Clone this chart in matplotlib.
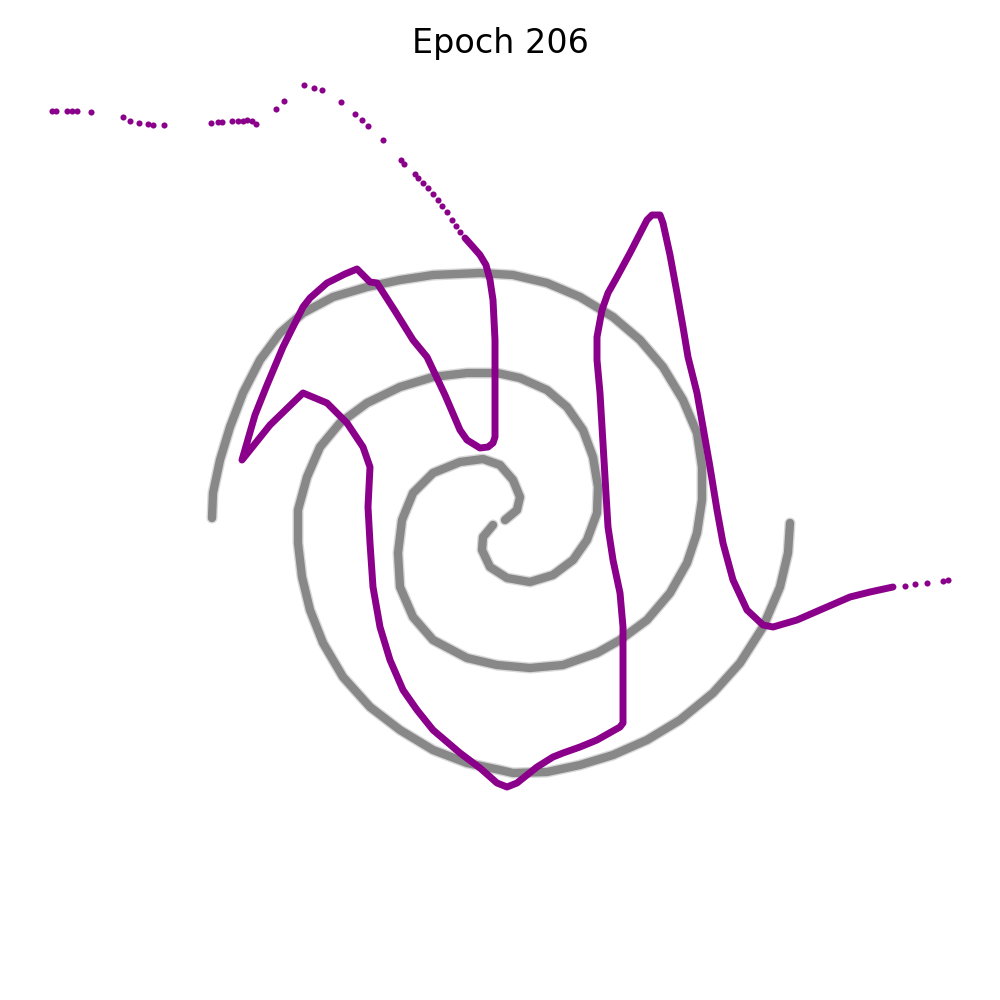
import matplotlib.pyplot as plt

# lengan spiral (abu-abu)
arm_a_x = [0.05, 0.17, 0.20, 0.13, 0.00, -0.17, -0.40, -0.67, -0.87, -0.98, -1.02, -1.00, -0.87, -0.67,
           -0.33, -0.03, 0.30, 0.63, 0.97, 1.20, 1.47, 1.70, 1.87, 1.97, 2.02, 2.02, 1.97, 1.83, 1.63,
           1.40, 1.13, 0.80, 0.47, 0.13, -0.20, -0.67, -1.00, -1.33, -1.67, -1.97, -2.20, -2.40, -2.57,
           -2.70, -2.80, -2.87, -2.88]
arm_a_y = [-0.20, -0.10, 0.03, 0.20, 0.35, 0.41, 0.38, 0.27, 0.07, -0.20, -0.53, -0.87, -1.17, -1.40,
           -1.58, -1.65, -1.68, -1.65, -1.53, -1.40, -1.20, -0.93, -0.63, -0.33, 0.00, 0.33, 0.67, 1.00,
           1.33, 1.60, 1.83, 2.03, 2.17, 2.25, 2.27, 2.25, 2.20, 2.13, 2.03, 1.87, 1.67, 1.40, 1.07, 0.73,
           0.40, 0.07, -0.18]

arm_b_x = [-0.07, -0.17, -0.18, -0.10, 0.07, 0.30, 0.53, 0.73, 0.87, 0.97, 0.98, 0.93, 0.83, 0.67, 0.47,
           0.20, -0.03, -0.33, -0.67, -1.00, -1.33, -1.60, -1.80, -1.93, -2.02, -2.02, -1.98, -1.90, -1.77,
           -1.57, -1.30, -1.00, -0.67, -0.33, 0.00, 0.13, 0.47, 0.80, 1.13, 1.47, 1.80, 2.13, 2.40, 2.63,
           2.80, 2.88, 2.90]
arm_b_y = [-0.25, -0.37, -0.50, -0.67, -0.78, -0.82, -0.75, -0.60, -0.40, -0.13, 0.13, 0.43, 0.70, 0.93,
           1.10, 1.22, 1.27, 1.27, 1.23, 1.13, 0.97, 0.77, 0.53, 0.23, -0.10, -0.43, -0.77, -1.10, -1.43,
           -1.77, -2.07, -2.30, -2.50, -2.63, -2.70, -2.73, -2.72, -2.65, -2.55, -2.40, -2.20, -1.93, -1.63,
           -1.27, -0.87, -0.53, -0.23]

# kurva hasil model (ungu), bagian titik-titik di atas
top_dots_x = [-4.48, -4.44, -4.33, -4.28, -4.23, -4.09, -3.77, -3.70, -3.61, -3.52, -3.47, -3.36, -2.89,
              -2.82, -2.78, -2.68, -2.62, -2.57, -2.53, -2.48, -2.44, -2.24, -2.16, -1.96, -1.86, -1.78,
              -1.59, -1.45, -1.38, -1.32, -1.17, -0.99, -0.96, -0.85, -0.82, -0.77, -0.72, -0.67, -0.62,
              -0.58, -0.53, -0.48, -0.44, -0.40]
top_dots_y = [3.89, 3.89, 3.89, 3.89, 3.89, 3.88, 3.83, 3.79, 3.77, 3.76, 3.75, 3.75, 3.77, 3.78, 3.78,
              3.79, 3.79, 3.79, 3.80, 3.79, 3.76, 3.91, 3.99, 4.15, 4.12, 4.10, 3.98, 3.86, 3.80, 3.74,
              3.60, 3.40, 3.36, 3.26, 3.22, 3.17, 3.12, 3.06, 3.00, 2.94, 2.88, 2.80, 2.74, 2.68]

# bagian rapat (garis)
curve_x = [-0.35, -0.27, -0.20, -0.14, -0.10, -0.07, -0.05, -0.05, -0.05, -0.07, -0.12, -0.20, -0.33,
           -0.40, -0.55, -0.73, -0.87, -1.05, -1.23, -1.30, -1.43, -1.55, -1.73, -1.90, -1.97, -2.00,
           -2.17, -2.33, -2.45, -2.58, -2.30, -1.97, -1.73, -1.53, -1.37, -1.30, -1.32, -1.30, -1.27,
           -1.20, -1.10, -0.97, -0.83, -0.67, -0.40, -0.20, -0.03, 0.07, 0.17, 0.37, 0.53, 0.63, 0.80,
           0.97, 1.20, 1.23, 1.23, 1.20, 1.13, 1.08, 1.05, 1.00, 0.97, 0.97, 1.02, 1.08, 1.17, 1.30, 1.47,
           1.52, 1.60, 1.63, 1.70, 1.77, 1.83, 1.88, 1.97, 2.03, 2.10, 2.17, 2.23, 2.33, 2.47, 2.63, 2.73,
           2.97, 3.20, 3.50, 3.70, 3.93]
curve_y = [2.62, 2.53, 2.45, 2.35, 2.20, 2.00, 1.60, 1.10, 0.63, 0.57, 0.53, 0.52, 0.60, 0.70, 1.05,
           1.43, 1.60, 1.89, 2.17, 2.18, 2.31, 2.26, 2.17, 2.02, 1.93, 1.87, 1.53, 1.15, 0.85, 0.40, 0.75,
           1.07, 0.97, 0.77, 0.53, 0.33, -0.07, -0.43, -0.87, -1.27, -1.60, -1.90, -2.10, -2.30, -2.53,
           -2.68, -2.83, -2.87, -2.83, -2.67, -2.57, -2.53, -2.47, -2.40, -2.27, -2.23, -1.27, -0.93, -0.60,
           -0.27, 0.23, 1.07, 1.40, 1.63, 1.90, 2.07, 2.23, 2.47, 2.80, 2.85, 2.85, 2.77, 2.45, 2.07, 1.73,
           1.43, 1.07, 0.73, 0.33, -0.10, -0.43, -0.80, -1.10, -1.25, -1.27, -1.20, -1.10, -0.97, -0.92,
           -0.87]

# ekor kanan (titik-titik)
tail_x = [4.05, 4.15, 4.27, 4.43, 4.48]
tail_y = [-0.86, -0.84, -0.83, -0.81, -0.80]

epoch = 206

fig = plt.figure(figsize=(5, 5), dpi=200)
ax = fig.add_axes([0.04, 0.04, 0.92, 0.89])

for xs, ys in [(arm_a_x, arm_a_y), (arm_b_x, arm_b_y)]:
    ax.plot(xs, ys, color='gray', lw=4.0, alpha=0.3, solid_capstyle='round', solid_joinstyle='round')
    ax.plot(xs, ys, color='gray', lw=3.0, alpha=0.9, solid_capstyle='round', solid_joinstyle='round')

ax.plot(top_dots_x, top_dots_y, 'o', color='darkmagenta', ms=2.2, mew=0)
ax.plot(curve_x, curve_y, color='darkmagenta', lw=2.5, solid_capstyle='round', solid_joinstyle='round')
ax.plot(tail_x, tail_y, 'o', color='darkmagenta', ms=2.2, mew=0)

ax.set_xlim(-4.6, 4.6)
ax.set_ylim(-4.6, 4.3)
ax.set_title(f'Epoch {epoch}', fontsize=12)
ax.axis('off')

plt.savefig('out.png', dpi=200)
